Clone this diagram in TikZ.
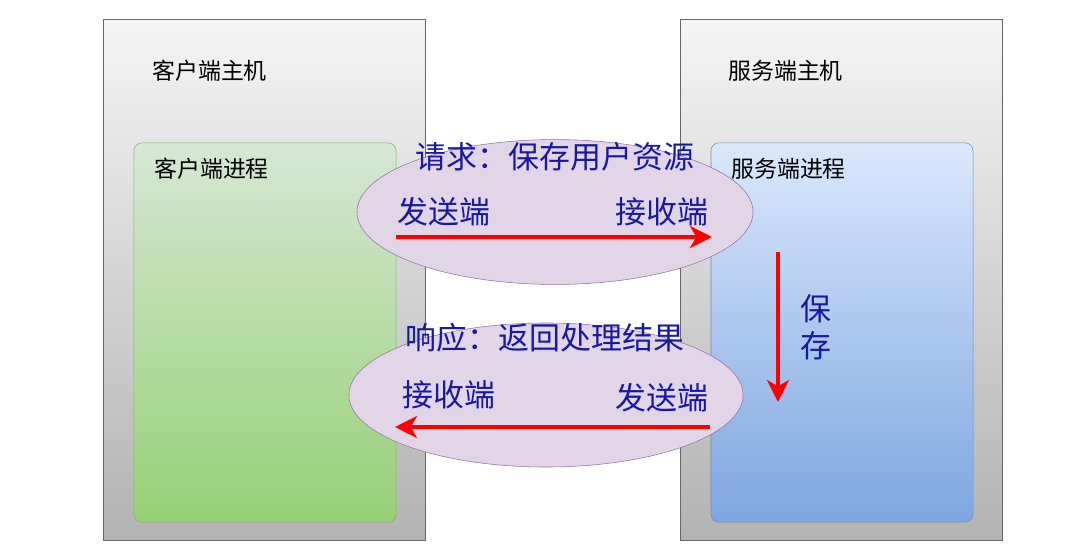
\documentclass[tikz,border=0pt]{standalone}
\usepackage{fontspec}
\usepackage{tikz}
\usetikzlibrary{arrows.meta,shapes.geometric}
\setmainfont{Noto Sans CJK SC}

\definecolor{hostline}{HTML}{666666}
\definecolor{greentop}{HTML}{D5E8D4}
\definecolor{greenbottom}{HTML}{97D077}
\definecolor{greenline}{HTML}{82B366}
\definecolor{bluetop}{HTML}{DAE8FC}
\definecolor{bluebottom}{HTML}{7EA6E0}
\definecolor{blueline}{HTML}{6C8EBF}
\definecolor{purplefill}{HTML}{E1D5E7}
\definecolor{purpleline}{HTML}{9673A6}
\definecolor{msgblue}{RGB}{24,24,160}

\begin{document}
\begin{tikzpicture}[
    x=0.025cm, y=-0.025cm,
    host/.style={draw=hostline, thick, top color=black!4, bottom color=black!30,
                 minimum width=8.03cm, minimum height=13cm, inner sep=0pt},
    proc/.style={rounded corners=0.2cm, inner sep=0pt,
                 minimum width=6.55cm, minimum height=9.48cm},
    msg/.style={ellipse, draw=purpleline, fill=purplefill, inner sep=0pt},
    hostlabel/.style={anchor=west, inner sep=0pt, font=\fontsize{16.3}{19}\selectfont},
    msglabel/.style={inner sep=0pt, text=msgblue, font=\fontsize{22}{26}\selectfont},
    flow/.style={-{Stealth[length=5.5mm, width=5.5mm, inset=1.6mm]}, red, line width=2.6pt}
]
\useasboundingbox (0,0) rectangle (1088,552);

% hosts
\node[host] (clienthost) at (264.5,280) {};
\node[host] (serverhost) at (841.5,280) {};

% processes
\node[proc, draw=greenline, top color=greentop, bottom color=greenbottom] (clientproc) at (265,332.5) {};
\node[proc, draw=blueline, top color=bluetop, bottom color=bluebottom] (serverproc) at (842,332.5) {};

\node[hostlabel] (clienthostlbl) at (152,71) {客户端主机};
\node[hostlabel] (clientproclbl) at (154,169) {客户端进程};
\node[hostlabel] (serverhostlbl) at (728,71) {服务端主机};
\node[hostlabel] (serverproclbl) at (731,169) {服务端进程};

% messages
\node[msg, minimum width=9.9cm, minimum height=3.62cm] (request) at (555,212) {};
\node[msg, minimum width=9.85cm, minimum height=3.6cm] (response) at (546,395) {};

\node[msglabel] (reqtitle) at (555,157) {请求：保存用户资源};
\node[msglabel, anchor=west] (reqsend) at (397,212) {发送端};
\node[msglabel, anchor=east] (reqrecv) at (709,212) {接收端};

\node[msglabel] (resptitle) at (545,338) {响应：返回处理结果};
\node[msglabel, anchor=west] (resprecv) at (402,395) {接收端};
\node[msglabel, anchor=east] (respsend) at (709,398) {发送端};

\node[msglabel, align=center] (savelbl) at (816,327) {保\\存};

\coordinate (reqstart) at (396,237);
\coordinate (reqend) at (712,237);
\coordinate (respstart) at (710,427);
\coordinate (respend) at (395,427);
\coordinate (savestart) at (778,252);
\coordinate (saveend) at (778,402);

\draw[flow] (reqstart) -- (reqend);
\draw[flow] (respstart) -- (respend);
\draw[flow] (savestart) -- (saveend);

\end{tikzpicture}
\end{document}
